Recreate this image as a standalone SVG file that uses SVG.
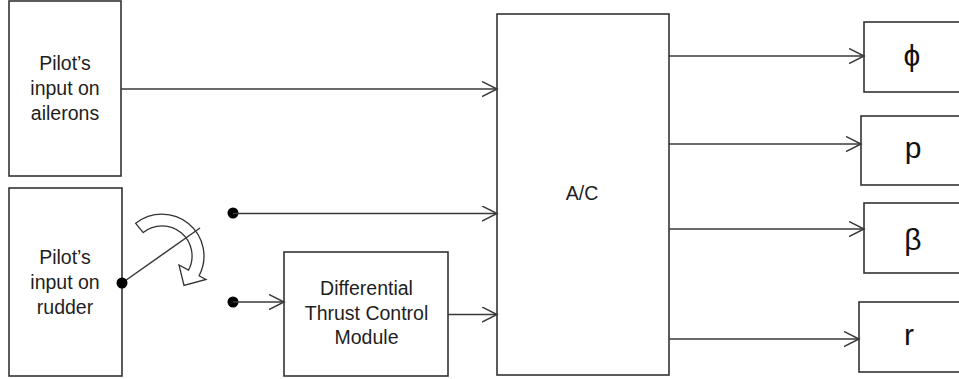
<svg xmlns="http://www.w3.org/2000/svg" width="959" height="379" viewBox="0 0 959 379">
<defs>
<style>
.box{fill:#fff;stroke:#333;stroke-width:1.6}
.ln{fill:none;stroke:#3a3a3a;stroke-width:1.5}
.t{font-family:"Liberation Sans",Arial,sans-serif;font-size:19.5px;fill:#1e1e1e;text-anchor:middle}
.g{font-family:"Liberation Sans",Arial,sans-serif;font-size:30px;fill:#111;text-anchor:middle}
.dot{fill:#000}
</style>
<marker id="ah" markerUnits="userSpaceOnUse" markerWidth="17" markerHeight="17" refX="15" refY="8" orient="auto" viewBox="0 0 17 17">
<path d="M0,0.5 L15,8 L0,15.5" fill="none" stroke="#3a3a3a" stroke-width="1.5"/>
</marker>
</defs>
<rect width="959" height="379" fill="#fff"/>
<g id="ailerons">
<rect class="box" x="9" y="1" width="112" height="175"/>
<text class="t" x="65" y="70">Pilot’s</text>
<text class="t" x="65" y="95">input on</text>
<text class="t" x="65" y="120">ailerons</text>
</g>
<g id="rudder">
<rect class="box" x="9" y="188" width="113" height="188"/>
<text class="t" x="65" y="264">Pilot’s</text>
<text class="t" x="65" y="289">input on</text>
<text class="t" x="65" y="313.5">rudder</text>
</g>
<g id="switch">
<path d="M135.7,223.3 A42,42 0 0 1 199.1,275.7 L206,279.5 L184,285.5 L179,265 L188.5,270.1 A30,30 0 0 0 143.2,232.6 Z" fill="#fff" stroke="#333" stroke-width="1.3"/>
<line class="ln" x1="122" y1="283" x2="200" y2="228"/>
<circle class="dot" cx="122" cy="283" r="5.5"/>
<circle class="dot" cx="233" cy="213" r="5.5"/>
<circle class="dot" cx="233" cy="302" r="5.5"/>
</g>
<g id="dtcm">
<rect class="box" x="284" y="252" width="164" height="124"/>
<text class="t" x="366.5" y="295">Differential</text>
<text class="t" x="366.5" y="320">Thrust Control</text>
<text class="t" x="366.5" y="344">Module</text>
</g>
<g id="ac">
<rect class="box" x="497" y="14" width="172" height="361"/>
<text class="t" x="582" y="200">A/C</text>
</g>
<g id="phi">
<rect class="box" x="864" y="22" width="100" height="70"/>
<text class="g" x="912" y="66">ϕ</text>
</g>
<g id="p">
<rect class="box" x="861" y="116" width="103" height="69"/>
<text class="g" x="913" y="158">p</text>
</g>
<g id="beta">
<rect class="box" x="864" y="203" width="100" height="70"/>
<text class="g" x="913" y="250">β</text>
</g>
<g id="r">
<rect class="box" x="859" y="302" width="105" height="70"/>
<text class="g" x="909" y="345">r</text>
</g>
<g id="connectors">
<line class="ln" x1="121" y1="89" x2="497" y2="89" marker-end="url(#ah)"/>
<line class="ln" x1="233" y1="213.5" x2="497" y2="213.5" marker-end="url(#ah)"/>
<line class="ln" x1="233" y1="302" x2="284" y2="302" marker-end="url(#ah)"/>
<line class="ln" x1="448" y1="314.5" x2="497" y2="314.5" marker-end="url(#ah)"/>
<line class="ln" x1="669" y1="56" x2="864" y2="56" marker-end="url(#ah)"/>
<line class="ln" x1="669" y1="144" x2="861" y2="144" marker-end="url(#ah)"/>
<line class="ln" x1="669" y1="229" x2="864" y2="229" marker-end="url(#ah)"/>
<line class="ln" x1="669" y1="339" x2="859" y2="339" marker-end="url(#ah)"/>
</g>
</svg>
